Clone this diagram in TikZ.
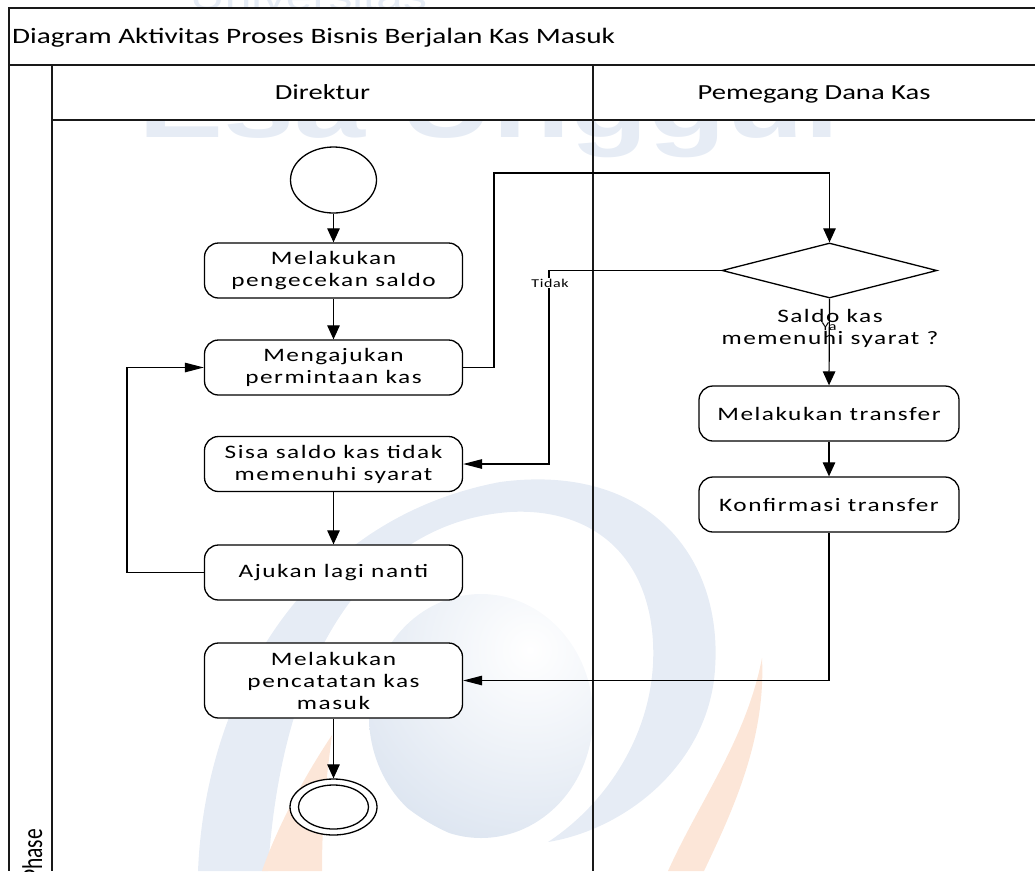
\documentclass[tikz,border=0pt]{standalone}
\usepackage{graphicx}
\usepackage{fontspec}
\setmainfont{Carlito}[FakeStretch=1.33]
\newfontfamily\actfont{Carlito}[FakeStretch=1.33, LetterSpace=8]
\newfontfamily\guardfont{Carlito}[FakeStretch=1.33, LetterSpace=5]
\newfontfamily\rawfont{Carlito}
\newfontfamily\markfont{Liberation Sans}[FakeStretch=1.33]
\usetikzlibrary{arrows.meta, shapes.geometric}

\definecolor{markblue}{RGB}{230,236,245}
\definecolor{markball}{RGB}{222,230,241}
\definecolor{markorange}{RGB}{252,230,216}

\tikzset{
  frame/.style={line width=1.6pt, draw=black!90},
  act/.style={draw, line width=1.3pt, rounded corners=14pt, fill=white,
    minimum width=258pt, minimum height=55pt, inner sep=0pt, align=center,
    font=\actfont\fontsize{19}{22}\selectfont},
  startnode/.style={ellipse, draw, line width=1.3pt, fill=white, inner sep=0pt,
    minimum width=86pt, minimum height=66pt},
  endring/.style={ellipse, draw, line width=1.3pt, fill=white, inner sep=0pt},
  decision/.style={diamond, draw, line width=1.3pt, fill=white, inner sep=0pt,
    minimum width=215pt, minimum height=55pt},
  flow/.style={line width=1.2pt},
  vtip/.style={-{Triangle[length=14pt,width=12.5pt]}},
  htip/.style={-{Triangle[length=19pt,width=9.5pt]}},
  guard/.style={font=\guardfont\fontsize{12}{14}\selectfont, inner sep=1pt},
  lanehead/.style={font=\fontsize{21.5}{26}\selectfont, inner sep=0pt},
}

\begin{document}
\begin{tikzpicture}[x=1pt, y=-1pt]
\useasboundingbox (0,0) rectangle (1035,871);

% faint university emblem in the background
\begin{scope}
  \clip (52,120) rectangle (1035,871);
  \node[anchor=base west, inner sep=0pt, text=markblue,
        font=\markfont\bfseries\fontsize{96}{96}\selectfont] (brand) at (138,137) {Esa Unggul};
  % swirl band
  \fill[markblue] (198,871) .. controls (205,700) and (300,520) .. (500,482)
     .. controls (650,462) and (728,560) .. (714,680)
     .. controls (702,770) and (622,830) .. (548,842)
     .. controls (612,800) and (662,720) .. (652,630)
     .. controls (642,545) and (582,508) .. (510,512)
     .. controls (372,522) and (282,650) .. (268,871) -- cycle;
  % globe
  \begin{scope}
    \clip (481,716) ellipse [x radius=112, y radius=122];
    \shade[inner color=white, outer color=markball] (530,650) circle (200);
  \end{scope}
  % flames
  \fill[markorange] (762,658) .. controls (766,740) and (732,812) .. (704,871)
     -- (668,871) .. controls (700,800) and (746,740) .. (762,658) -- cycle;
  \fill[markorange] (332,735) .. controls (302,780) and (276,830) .. (262,871)
     -- (322,871) .. controls (322,820) and (326,780) .. (332,735) -- cycle;
\end{scope}
\begin{scope}
  \clip (0,0) rectangle (1035,8);
  \node[anchor=base west, inner sep=0pt, text=markblue,
        font=\markfont\fontsize{36}{36}\selectfont] (brandtop) at (190,9) {Universitas};
\end{scope}
% title and lane header rows stay white
\fill[white] (9,8) rectangle (1035,120);

% pool frame and swimlanes
\draw[frame] (1035,8) -- (9,8) -- (9,871);
\draw[frame] (9,65) -- (1035,65);
\draw[frame] (52,65) -- (52,871);
\draw[frame] (52,120) -- (1035,120);
\draw[frame] (593,65) -- (593,871);

\node[lanehead, font=\fontsize{22}{26}\selectfont, anchor=base west] (title) at (12,43) {Diagram Aktivitas Proses Bisnis Berjalan Kas Masuk};
\node[lanehead, anchor=base] (lanedir) at (322.5,99) {Direktur};
\node[lanehead, anchor=base] (lanekas) at (814,99) {Pemegang Dana Kas};
\node[rotate=90, anchor=base west, inner sep=0pt] (phase) at (42,881)
  {\rawfont\fontsize{21.5}{26}\selectfont\scalebox{1}[1.33]{Phase}};

% activities
\node[startnode] (start) at (333.5,180) {};
\node[act] (cek) at (333.5,270.5) {Melakukan\\pengecekan saldo};
\node[act] (aju) at (333.5,367.5) {Mengajukan\\permintaan kas};
\node[act] (sisa) at (333.5,464) {Sisa saldo kas tidak\\memenuhi syarat};
\node[act] (lagi) at (333.5,572.5) {Ajukan lagi nanti};
\node[act, minimum height=75pt] (catat) at (333.5,680.5) {Melakukan\\pencatatan kas\\masuk};
\node[endring, minimum width=87pt, minimum height=56pt] (end) at (333.5,807) {};
\node[endring, minimum width=70pt, minimum height=44pt] (endin) at (333.5,807) {};

\node[decision] (saldo) at (829.5,270.5) {};
\node[act, minimum width=260pt] (tf) at (829,413.5) {Melakukan transfer};
\node[act, minimum width=260pt] (konf) at (829,504.5) {Konfirmasi transfer};

% bends of the control flow
\coordinate (up) at (494,173);
\coordinate (nojog) at (549,270.5);
\coordinate (back) at (127,572.5);

% control flow
\draw[flow, vtip] (start) -- (cek);
\draw[flow, vtip] (cek) -- (aju);
\draw[flow, vtip] (aju.east) -| (up) -| (saldo.north);
\draw[flow, htip] (saldo.west) -- (nojog) |- (sisa.east);
\draw[flow, vtip] (saldo.south) -- (tf.north);
\draw[flow, vtip] (tf) -- (konf);
\draw[flow, htip] (konf.south) |- (catat.east);
\draw[flow, vtip] (sisa) -- (lagi);
\draw[flow, htip] (lagi.west) -- (back) |- (aju.west);
\draw[flow, vtip] (catat) -- (end);

% guards and decision text
\node[guard, fill=white] (tidak) at (550,283) {Tidak};
\node[font=\actfont\fontsize{19}{22}\selectfont, align=center, inner sep=0pt] (cond) at (830,328) {Saldo kas\\memenuhi syarat ?};
\node[guard] (ya) at (829,327) {Ya};
\end{tikzpicture}
\end{document}
